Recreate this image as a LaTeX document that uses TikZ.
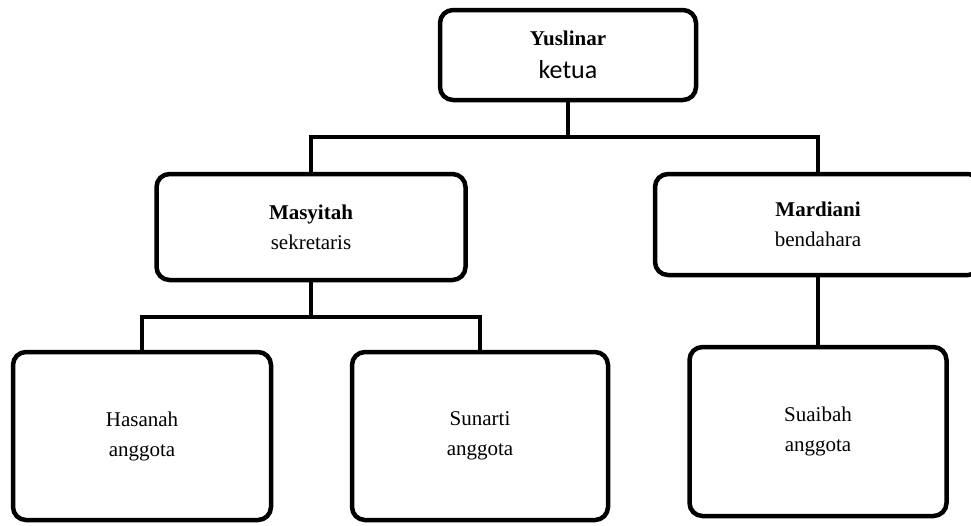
\documentclass[tikz,border=0pt]{standalone}
\usepackage{fontspec}
\setmainfont{Liberation Serif}
\newfontfamily\carlito{Carlito}
\usetikzlibrary{positioning}
\tikzset{
  org/.style={draw=black,line width=4.5pt,rounded corners=13pt,align=center,inner sep=0pt,font=\fontsize{21}{30}\selectfont},
  ln/.style={line width=4.5pt}
}

\begin{document}
\begin{tikzpicture}[x=1pt,y=-1pt]
\clip (0,0) rectangle (971,525);
% pengurus inti
\node[org,minimum width=256pt,minimum height=90pt] (ketua) at (568,55) {\textbf{Yuslinar}\\[3pt]{\carlito\fontsize{26}{30}\selectfont ketua}};
\node[org,minimum width=309pt,minimum height=106pt] (sekr) at (311,227) {\textbf{Masyitah}\\sekretaris};
\node[org,minimum width=326pt,minimum height=101pt] (bend) at (818,224.5) {\textbf{Mardiani}\\bendahara};
% anggota
\node[org,minimum width=258pt,minimum height=168pt] (has) at (142,436) {Hasanah\\anggota};
\node[org,minimum width=256pt,minimum height=168pt] (sun) at (480,436) {Sunarti\\anggota};
\node[org,minimum width=257pt,minimum height=169pt] (sua) at (818,431.5) {Suaibah\\anggota};
% garis
\coordinate (bus1) at (568,137);
\coordinate (bus2) at (311,317);
\draw[ln] (ketua.south) -- (bus1) -| (sekr.north);
\draw[ln] (bus1) -| (bend.north);
\draw[ln] (sekr.south) -- (bus2) -| (has.north);
\draw[ln] (bus2) -| (sun.north);
\draw[ln] (bend.south) -- (sua.north);
\end{tikzpicture}
\end{document}
